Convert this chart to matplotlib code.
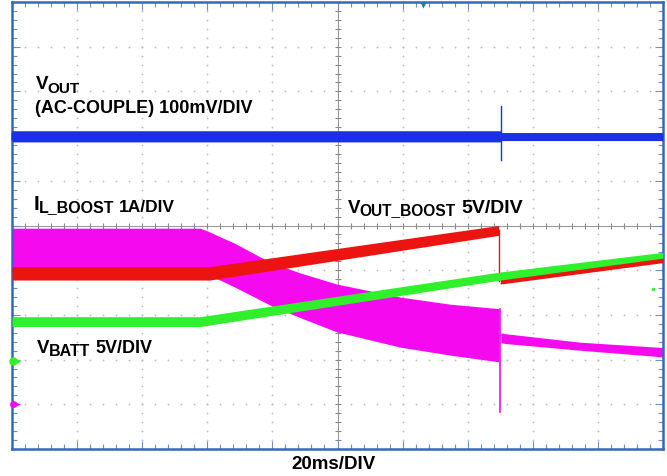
import numpy as np
import matplotlib
matplotlib.use('Agg')
import matplotlib.pyplot as plt

plt.rcParams['font.family'] = ['Liberation Sans', 'DejaVu Sans']
plt.rcParams['font.weight'] = 'bold'

# ---------------- data (time in ms, amplitude in divisions) ----------------
# VOUT (AC-coupled) band
blue_t = [0, 150.0, 150.4, 200]
blue_hi = [2.12, 2.12, 2.08, 2.08]
blue_lo = [1.87, 1.87, 1.90, 1.90]
blue_spike_t = 150.2
blue_spike_y = [1.47, 2.68]

# VOUT_BOOST (red)
red1_t = [0, 60.8, 149.5]
red1_hi = [-0.92, -0.92, 0.0]
red1_lo = [-1.22, -1.22, -0.22]
red_drop_t = 149.7
red_drop_y = [-0.1, -1.25]
red2_t = [150.0, 200]
red2_hi = [-1.12, -0.68]
red2_lo = [-1.31, -0.83]

# VBATT (green)
green_t = [0, 57.8, 150.0, 200]
green_hi = [-2.04, -2.04, -1.04, -0.60]
green_lo = [-2.26, -2.26, -1.22, -0.73]

# IL_BOOST (magenta) ripple envelope
mag1_t = [0, 57.8, 60, 63.9, 68.5, 73.1, 79.3, 88.5, 99.8, 119.2, 134.6, 149.6]
mag1_hi = [-0.06, -0.06, -0.12, -0.25, -0.40, -0.58, -0.82, -1.06, -1.31, -1.60, -1.76, -1.86]
mag1_lo = [-1.10, -1.10, -1.12, -1.22, -1.38, -1.55, -1.78, -2.06, -2.38, -2.72, -2.90, -3.05]
mag_spike_t = 150.0
mag_spike_y = [-1.86, -4.17]
mag2_t = [150.2, 151.5, 174.5, 200]
mag2_hi = [-2.40, -2.42, -2.61, -2.73]
mag2_lo = [-2.62, -2.64, -2.79, -2.94]

# channel reference markers
ch_levels = {'blue': 2.0, 'green': -3.03, 'magenta': -3.99}
trigger_t = 126.3

# ---------------- styling ----------------
C_BLUE = '#1b2fe6'
C_RED = '#ec1410'
C_GREEN = '#2ff02a'
C_MAG = '#f50af0'
C_FRAME = '#3568bd'
C_GRID = '#bdbdbd'

fig = plt.figure(figsize=(6.67, 4.76), dpi=100)
ax = fig.add_axes([12/667, 27/476, 651/667, 447/476])
ax.set_xlim(0, 200)
ax.set_ylim(-5, 5)

# dotted graticule
for xv in np.arange(20, 200, 20):
    if xv == 100:
        continue
    ys = np.arange(-5, 5.001, 0.2)
    ax.plot(np.full_like(ys, xv), ys, ls='none', marker='o', ms=1.3,
            mec='none', color=C_GRID, zorder=1)
for yv in np.arange(-4, 5, 1):
    if yv == 0:
        continue
    xs = np.arange(0, 200.01, 4)
    ax.plot(xs, np.full_like(xs, yv), ls='none', marker='o', ms=1.3,
            mec='none', color=C_GRID, zorder=1)

# center cross with ticks
ax.axhline(0, color='#9a9a9a', lw=0.8, zorder=1)
ax.axvline(100, color='#9a9a9a', lw=0.8, zorder=1)
xs = np.arange(0, 200.01, 4)
ax.plot(xs, np.zeros_like(xs), ls='none', marker='|', ms=4, mew=0.8,
        color='#8a8a8a', zorder=1)
ys = np.arange(-5, 5.001, 0.2)
ax.plot(np.full_like(ys, 100), ys, ls='none', marker='_', ms=4, mew=0.8,
        color='#8a8a8a', zorder=1)

# traces
ax.fill_between(mag1_t, mag1_lo, mag1_hi, color=C_MAG, lw=0, zorder=2)
ax.fill_between(mag2_t, mag2_lo, mag2_hi, color=C_MAG, lw=0, zorder=2)
ax.plot([mag_spike_t, mag_spike_t], mag_spike_y, color=C_MAG, lw=1.2, zorder=2)

ax.fill_between(red1_t, red1_lo, red1_hi, color=C_RED, lw=0, zorder=3)
ax.fill_between(red2_t, red2_lo, red2_hi, color=C_RED, lw=0, zorder=3)
ax.plot([red_drop_t, red_drop_t], red_drop_y, color=C_RED, lw=1.0, zorder=3)

ax.fill_between(green_t, green_lo, green_hi, color=C_GREEN, lw=0, zorder=4)

ax.fill_between(blue_t, blue_lo, blue_hi, color=C_BLUE, lw=0, zorder=4)
ax.plot([blue_spike_t, blue_spike_t], blue_spike_y, color=C_BLUE, lw=1.0, zorder=4)

# markers
ax.plot(0.8, ch_levels['blue'], marker='>', ms=6, color=C_BLUE, mec='none',
        clip_on=False, zorder=6)
ax.plot(0.3, ch_levels['green'], marker='o', ms=6, color=C_GREEN, mec='none',
        clip_on=False, zorder=6)
ax.plot(1.5, ch_levels['green'], marker='>', ms=6, color=C_GREEN, mec='none',
        clip_on=False, zorder=6)
ax.plot(0.3, ch_levels['magenta'], marker='o', ms=5, color=C_MAG, mec='none',
        clip_on=False, zorder=6)
ax.plot(1.5, ch_levels['magenta'], marker='>', ms=5, color=C_MAG, mec='none',
        clip_on=False, zorder=6)
ax.plot(trigger_t, 4.93, marker='v', ms=5, color='#1a7f9c', mec='none',
        clip_on=False, zorder=6)
ax.plot(196.9, -1.42, marker='o', ms=2.5, color=C_GREEN, mec='none', zorder=6)

# frame & ticks
for s in ax.spines.values():
    s.set_color(C_FRAME)
    s.set_linewidth(1.8)
ax.set_xticks(np.arange(0, 201, 20))
ax.set_xticks(np.arange(0, 201, 4), minor=True)
ax.set_yticks(np.arange(-5, 6, 1))
ax.set_yticks(np.arange(-5, 5.001, 0.2), minor=True)
ax.tick_params(which='both', direction='in', top=True, right=True,
               labelbottom=False, labelleft=False, color='#6f8fc4')
ax.tick_params(which='major', length=6, width=0.8)
ax.tick_params(which='minor', length=3.5, width=0.8)

# labels (pixel positions -> figure fraction)
renderer = fig.canvas.get_renderer()
W, H = 667, 476


def ftext(px, py, s, size=13, ha='left'):
    return fig.text(px / W, 1 - py / H, s, fontsize=size, fontweight='bold',
                    ha=ha, va='baseline', color='black')


def seq(px, py, parts):
    """parts: (text, size, baseline shift px, gap px before)."""
    x = px
    for s, size, dy, gap in parts:
        x += gap
        t = ftext(x, py + dy, s, size)
        x = t.get_window_extent(renderer).x1


seq(36, 89, [('V', 13.5, 0, 0), ('OUT', 11, 4, -1)])
ftext(35, 113, '(AC-COUPLE) 100mV/DIV', 13)
seq(34, 210, [('I', 15, 0, 0), ('L_BOOST', 11.5, 2, -1), ('1A/DIV', 12.5, 2, 5)])
seq(348, 213, [('V', 13.5, 0, 0), ('OUT_BOOST', 11.2, 2, -1), ('5V/DIV', 14, 0, 6)])
seq(37, 353, [('V', 13.5, 0, 0), ('BATT', 11.5, 3, -1), ('5V/DIV', 13, 0, 6)])
ftext(334, 469, '20ms/DIV', 13.5, ha='center')

fig.savefig('out.png', dpi=100)
